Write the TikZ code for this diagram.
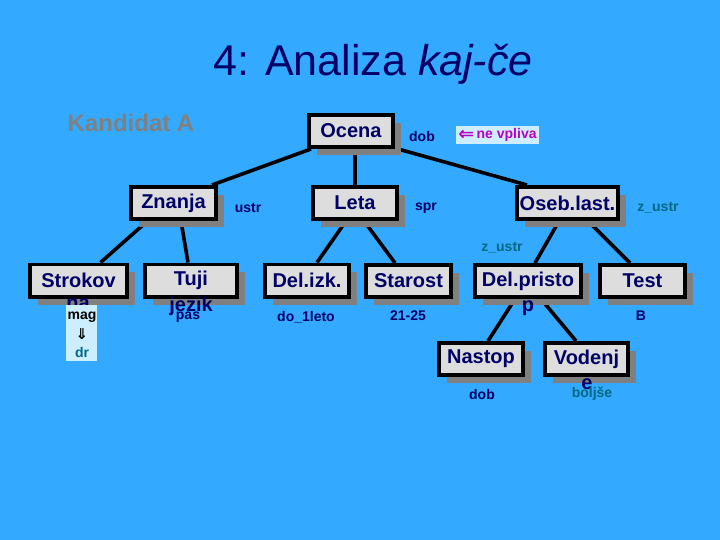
\documentclass[tikz,border=0pt]{standalone}
\usepackage{fontspec}
\setmainfont{Liberation Sans}
\newfontfamily\symfont{DejaVu Sans}
\usetikzlibrary{shadows,calc}
\definecolor{bg}{RGB}{51,170,255}
\definecolor{navy}{RGB}{0,0,102}
\definecolor{boxfill}{RGB}{221,221,221}
\definecolor{shadowgray}{RGB}{128,128,128}
\definecolor{tealc}{RGB}{0,105,130}
\definecolor{magc}{RGB}{185,0,200}
\definecolor{lightbg}{RGB}{204,238,255}
\definecolor{kandgray}{RGB}{128,128,128}
\pgfdeclarelayer{bglayer}
\pgfdeclarelayer{linelayer}
\pgfsetlayers{bglayer,linelayer,main}
\begin{document}
\begin{tikzpicture}[x=1pt,y=-1pt,
  treebox/.style={draw=black, line width=3.8pt, fill=boxfill, text=navy,
    font=\fontsize{20}{23}\selectfont\bfseries, inner sep=0pt, minimum height=32.2pt,
    general shadow={fill=shadowgray, shadow xshift=8pt, shadow yshift=-8pt}},
  link/.style={line width=3.6pt, draw=black},
  lbl/.style={text=navy, font=\fontsize{14}{16}\selectfont\bfseries, inner sep=0pt},
  tlbl/.style={lbl, text=tealc},
  wrapline/.style={text=navy, font=\fontsize{20}{23}\selectfont\bfseries, inner sep=0pt, anchor=base}]
\begin{pgfonlayer}{bglayer}
\fill[bg] (0,0) rectangle (720,540);
\end{pgfonlayer}
\useasboundingbox (0,0) rectangle (720,540);

\node[anchor=base, text=navy, font=\fontsize{43}{50}\selectfont, inner sep=0pt] (title) at (373,76) {4: Analiza \textit{kaj-če}};
\node[text=kandgray, font=\fontsize{24}{27}\selectfont\bfseries, inner sep=0pt] (kand) at (131,123) {Kandidat A};

% boxes
\node[treebox, minimum width=84.2pt] (ocena) at (351,131) {Ocena};
\node[treebox, minimum width=85.2pt] (znanja) at (173.5,203) {Znanja};
\node[treebox, minimum width=84.2pt] (leta) at (355,203) {Leta};
\node[treebox, minimum width=101.2pt] (oseb) at (567.5,203) {Oseb.last.};
\node[treebox, minimum width=97.2pt] (strok) at (78.5,280.5) {Strokov};
\node[treebox, minimum width=92.2pt] (tuji) at (191,280.5) {Tuji};
\node[treebox, minimum width=84.2pt] (delizk) at (307,280.5) {Del.izk.};
\node[treebox, minimum width=85.2pt] (star) at (408.5,281) {Starost};
\node[treebox, minimum width=106.2pt] (delpr) at (528,281) {Del.pristo};
\node[treebox, minimum width=85.2pt] (test) at (642.5,281) {Test};
\node[treebox, minimum width=84.2pt] (nast) at (481,359) {Nastop};
\node[treebox, minimum width=83.2pt] (vod) at (586.5,359) {Vodenj};

% connectors (behind the boxes)
\begin{pgfonlayer}{linelayer}
\draw[link] ($(ocena.south west)+(4,0)$) -- ($(znanja.north east)+(-6,0)$);
\draw[link] (leta.north |- ocena.south) -- (leta.north);
\draw[link] ($(ocena.south east)+(3,0)$) -- ($(oseb.north west)+(12,0)$);
\draw[link] ($(znanja.south)+(-26,0)$) -- ($(strok.north)+(22,0)$);
\draw[link] ($(znanja.south)+(7.5,0)$) -- ($(tuji.north)+(-3,0)$);
\draw[link] ($(leta.south)+(-9,0)$) -- ($(delizk.north)+(10,0)$);
\draw[link] ($(leta.south)+(9,0)$) -- ($(star.north)+(-13.5,0)$);
\draw[link] ($(oseb.south)+(-8.5,0)$) -- ($(delpr.north)+(7,0)$);
\draw[link] ($(oseb.south)+(20.5,0)$) -- ($(test.north)+(-12.5,0)$);
\draw[link] ($(delpr.south)+(-13,0)$) -- ($(nast.north)+(7,0)$);
\draw[link] ($(delpr.south)+(13,0)$) -- ($(vod.north)+(-10.5,0)$);
\end{pgfonlayer}

% second lines of wrapped texts
\node[wrapline] (na) at (78,309) {na};
\node[wrapline] (jezik) at (191,311) {jezik};
\node[wrapline] (pline) at (528,311) {p};
\node[wrapline] (eline) at (587,389) {e};

% mag box
\node[fill=lightbg, minimum width=31pt, minimum height=56pt, inner sep=0pt] (magbox) at (81.5,333) {};
\node[lbl, text=black] (mag) at (82,317) {mag};
\node[lbl, text=black, font=\symfont\fontsize{15}{16}\selectfont\bfseries] (darr) at (82,334) {⇓};
\node[tlbl] (dr) at (82,352) {dr};

% ne vpliva
\node[fill=lightbg, text=magc, font=\fontsize{14}{16}\selectfont\bfseries, inner sep=1pt,
      minimum width=83pt, minimum height=18pt] (nevpl) at (497.5,135) {\raisebox{-2pt}{\symfont\fontsize{19}{19}\selectfont ⇐}\,ne vpliva};

% labels
\node[lbl] (dob1) at (422,136) {dob};
\node[lbl] (ustr) at (248,208) {ustr};
\node[lbl] (spr) at (426,208) {spr};
\node[tlbl] (zustr1) at (658,208) {z\_ustr};
\node[tlbl] (zustr2) at (502,248) {z\_ustr};
\node[lbl] (pas) at (188,317) {pas};
\node[lbl] (do1) at (306,317) {do\_1leto};
\node[lbl] (age) at (408,316) {21-25};
\node[lbl] (bl) at (641,316) {B};
\node[lbl] (dob2) at (482,394) {dob};
\node[tlbl] (bolj) at (592,394) {boljše};
\end{tikzpicture}
\end{document}
